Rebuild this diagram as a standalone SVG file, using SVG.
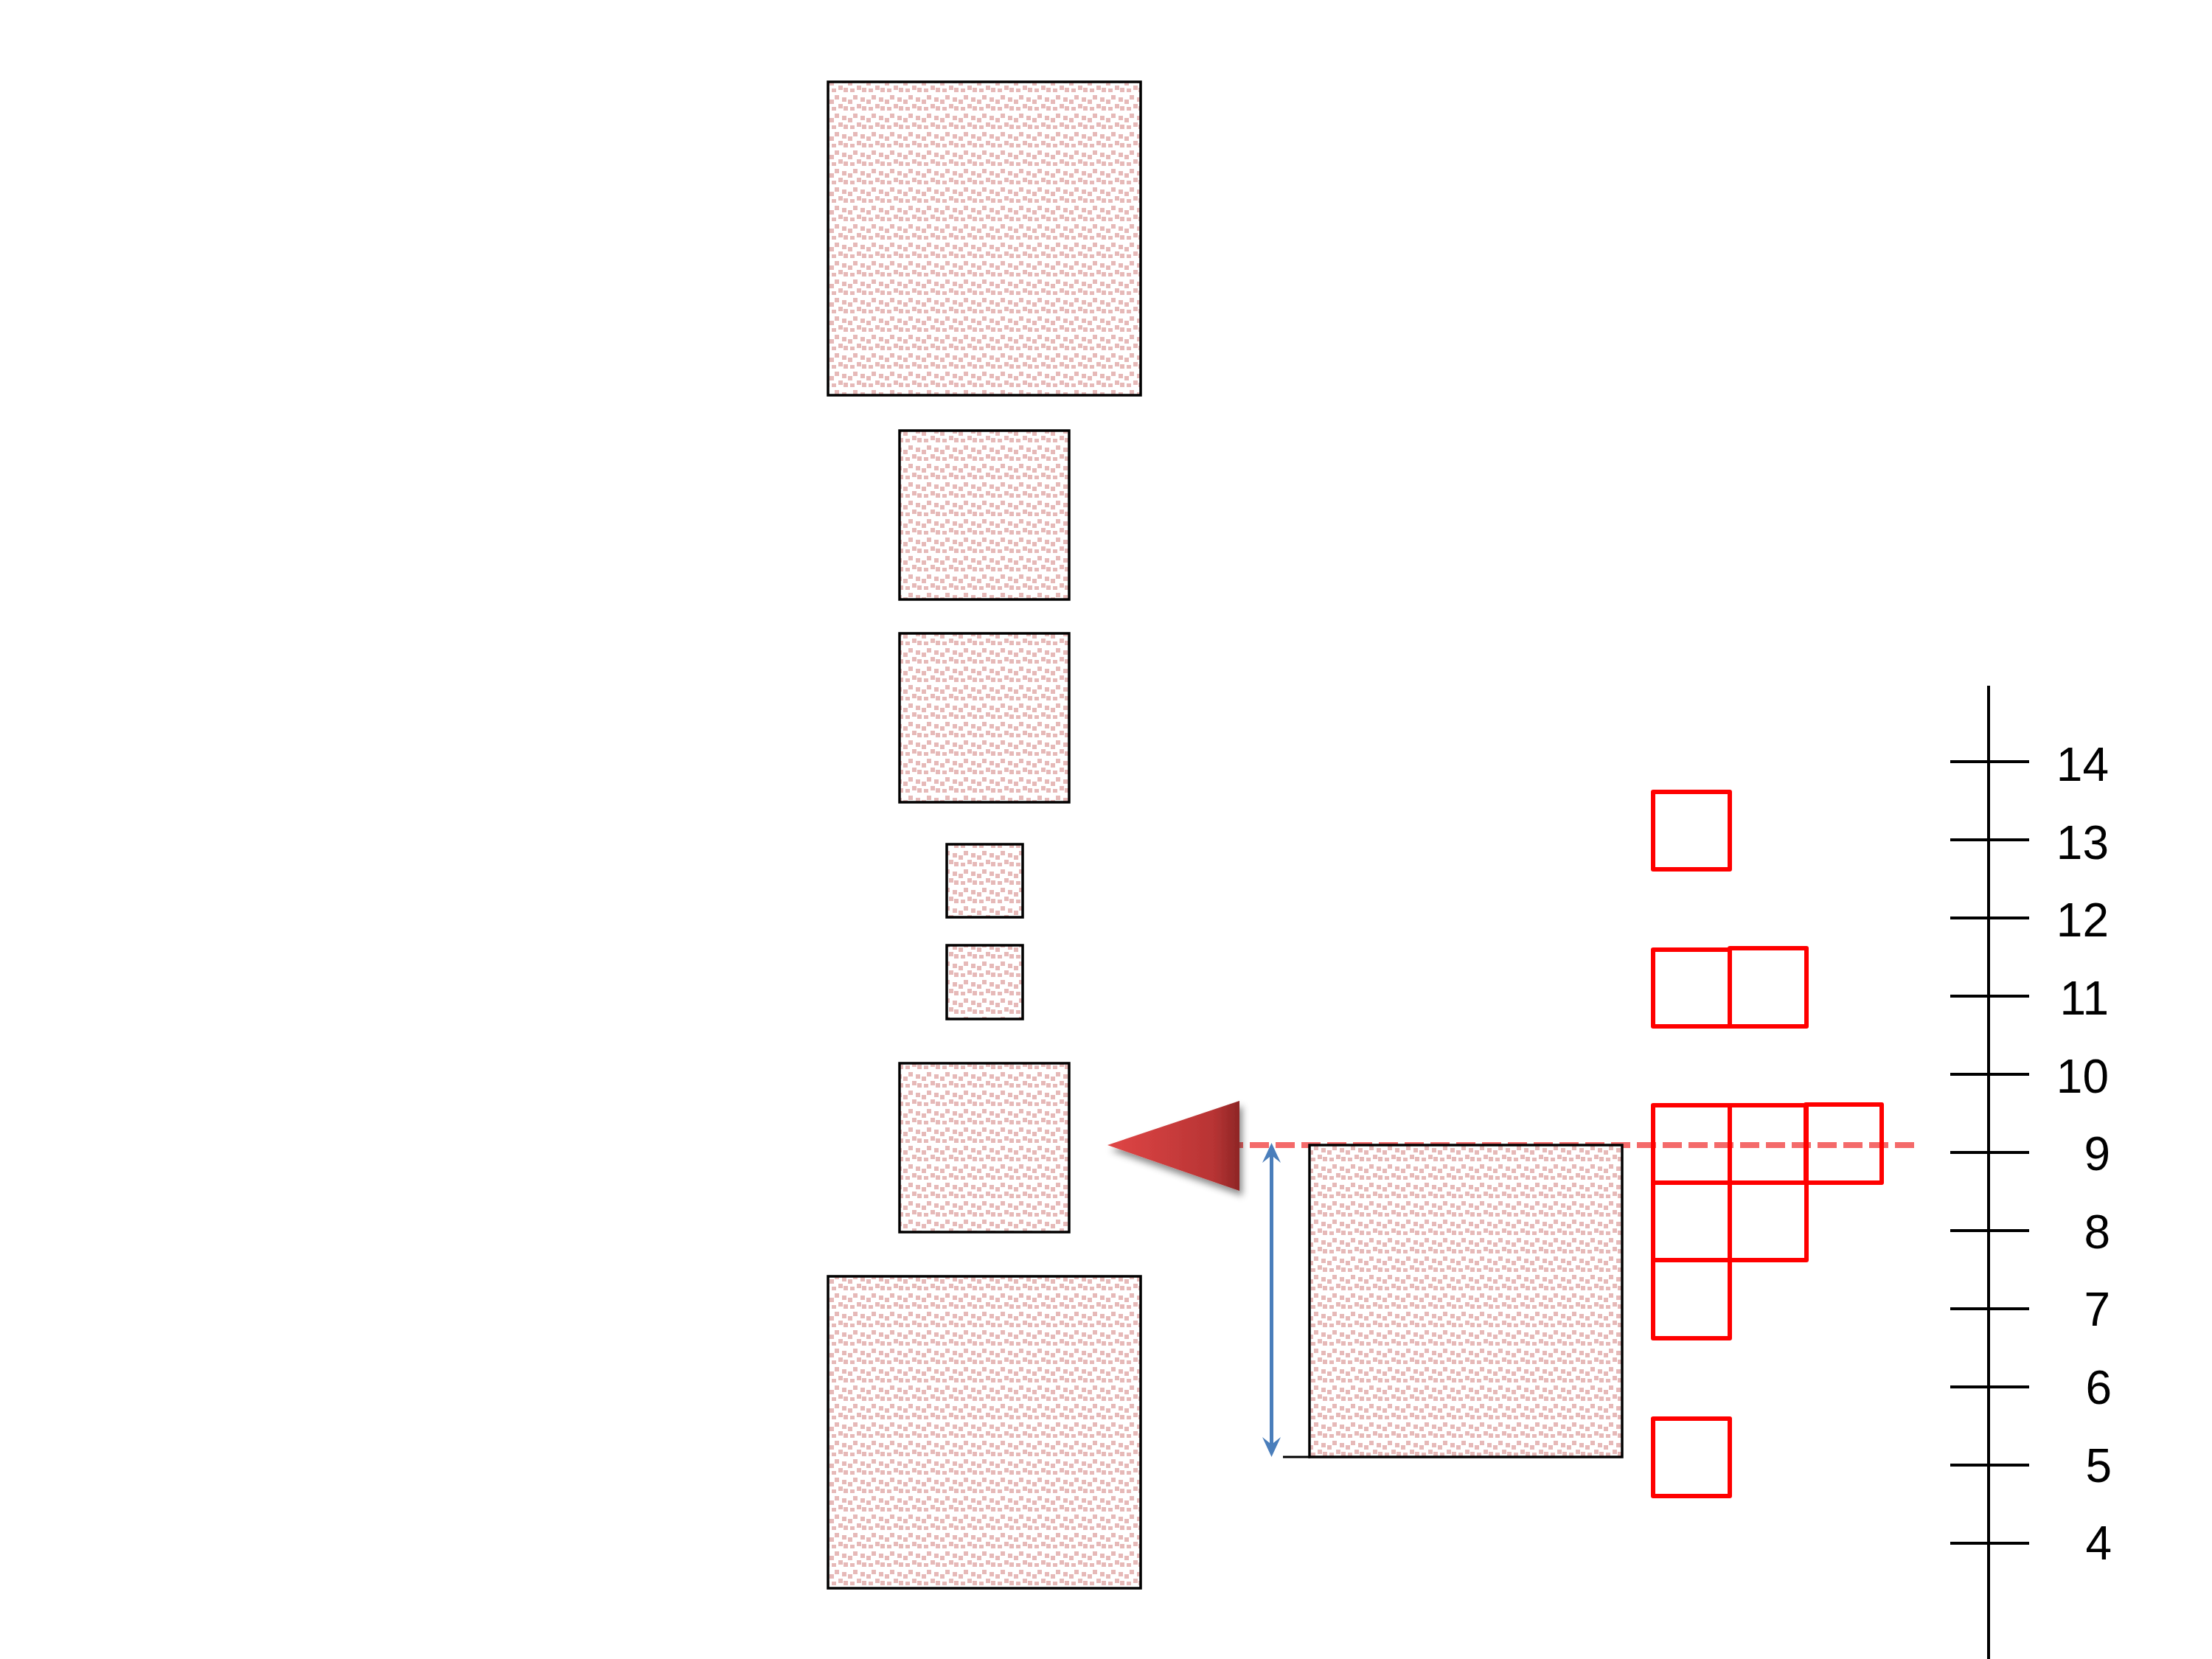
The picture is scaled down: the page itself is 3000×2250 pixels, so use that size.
<svg xmlns="http://www.w3.org/2000/svg" width="3000" height="2250" viewBox="0 0 3000 2250">
<style>
.box{fill:url(#confetti);stroke:#000;stroke-width:3.5}
.rbox{fill:none;stroke:#FF0000;stroke-width:6;stroke-linejoin:round}
.axis{stroke:#000;stroke-width:4;fill:none}
.lbl{font-family:"Liberation Sans","Noto Sans",sans-serif;font-size:64px;fill:#000;text-anchor:end}
</style>
<defs>
<pattern id="confetti" width="25" height="25" patternUnits="userSpaceOnUse">
<rect width="25" height="25" fill="#fff"/>
<g fill="#E6B9B8">
<rect x="7" y="4" width="6" height="6"/>
<rect x="17" y="7" width="6" height="6"/>
<rect x="0" y="10" width="6" height="6"/>
<rect x="12" y="16" width="6" height="6"/>
<rect x="19" y="19" width="6" height="6"/>
<rect x="3" y="20" width="6" height="5"/>
</g>
</pattern>
<linearGradient id="tri" x1="0" y1="0" x2="1" y2="0">
<stop offset="0" stop-color="#E04646"/>
<stop offset="0.8" stop-color="#B83434"/>
<stop offset="1" stop-color="#8E2626"/>
</linearGradient>
<filter id="sh" x="-20%" y="-20%" width="140%" height="150%">
<feDropShadow dx="4" dy="7" stdDeviation="5" flood-color="#000" flood-opacity="0.45"/>
</filter>
</defs>
<rect width="3000" height="2250" fill="#fff"/>

<g id="box1"><rect class="box" x="1123" y="111" width="424" height="425"/></g>
<g id="box2"><rect class="box" x="1220" y="584" width="230" height="229"/></g>
<g id="box3"><rect class="box" x="1220" y="859" width="230" height="229"/></g>
<g id="box4"><rect class="box" x="1284" y="1145" width="103" height="99"/></g>
<g id="box5"><rect class="box" x="1284" y="1282" width="103" height="100"/></g>
<g id="box6"><rect class="box" x="1220" y="1442" width="230" height="229"/></g>
<g id="box7"><rect class="box" x="1123" y="1731" width="424" height="423"/></g>

<g id="connectors">
<line x1="1660" y1="1553" x2="2600" y2="1553" stroke="#F46A6A" stroke-width="8" stroke-dasharray="26 9"/>
<line x1="1724.5" y1="1562" x2="1724.5" y2="1964" stroke="#4A7EBB" stroke-width="5"/>
<path d="M1724.5 1550 L1737 1577 L1724.5 1567 L1712 1577 Z" fill="#4A7EBB"/>
<path d="M1724.5 1976 L1737 1949 L1724.5 1959 L1712 1949 Z" fill="#4A7EBB"/>
<line x1="1740" y1="1976" x2="1777" y2="1976" stroke="#000" stroke-width="3"/>
</g>

<g id="pointer"><path d="M1502 1553 L1681 1493 L1681 1615 Z" fill="url(#tri)" filter="url(#sh)"/></g>

<g id="box8"><rect class="box" x="1776" y="1553" width="424" height="423"/></g>

<g id="cells">
<rect class="rbox" x="2242" y="1074" width="104" height="105"/>
<rect class="rbox" x="2242" y="1288" width="104" height="104"/>
<rect class="rbox" x="2346" y="1286" width="104" height="106"/>
<rect class="rbox" x="2242" y="1499" width="104" height="105"/>
<rect class="rbox" x="2346" y="1499" width="104" height="105"/>
<rect class="rbox" x="2449" y="1498" width="103" height="106"/>
<rect class="rbox" x="2242" y="1604" width="104" height="105"/>
<rect class="rbox" x="2346" y="1604" width="104" height="105"/>
<rect class="rbox" x="2242" y="1709" width="104" height="106"/>
<rect class="rbox" x="2242" y="1924" width="104" height="105"/>
</g>

<g id="axis">
<line class="axis" x1="2697" y1="930" x2="2697" y2="2250"/>
<line class="axis" x1="2645" y1="1033" x2="2752" y2="1033"/>
<line class="axis" x1="2645" y1="1139" x2="2752" y2="1139"/>
<line class="axis" x1="2645" y1="1245" x2="2752" y2="1245"/>
<line class="axis" x1="2645" y1="1351" x2="2752" y2="1351"/>
<line class="axis" x1="2645" y1="1457" x2="2752" y2="1457"/>
<line class="axis" x1="2645" y1="1563" x2="2752" y2="1563"/>
<line class="axis" x1="2645" y1="1669" x2="2752" y2="1669"/>
<line class="axis" x1="2645" y1="1775" x2="2752" y2="1775"/>
<line class="axis" x1="2645" y1="1881" x2="2752" y2="1881"/>
<line class="axis" x1="2645" y1="1987" x2="2752" y2="1987"/>
<line class="axis" x1="2645" y1="2093" x2="2752" y2="2093"/>
<text class="lbl" x="2860" y="1059">14</text>
<text class="lbl" x="2860" y="1165">13</text>
<text class="lbl" x="2860" y="1270">12</text>
<text class="lbl" x="2860" y="1376">11</text>
<text class="lbl" x="2860" y="1482">10</text>
<text class="lbl" x="2862" y="1587">9</text>
<text class="lbl" x="2862" y="1693">8</text>
<text class="lbl" x="2862" y="1798">7</text>
<text class="lbl" x="2864" y="1904">6</text>
<text class="lbl" x="2864" y="2010">5</text>
<text class="lbl" x="2864" y="2115">4</text>
</g>
</svg>
